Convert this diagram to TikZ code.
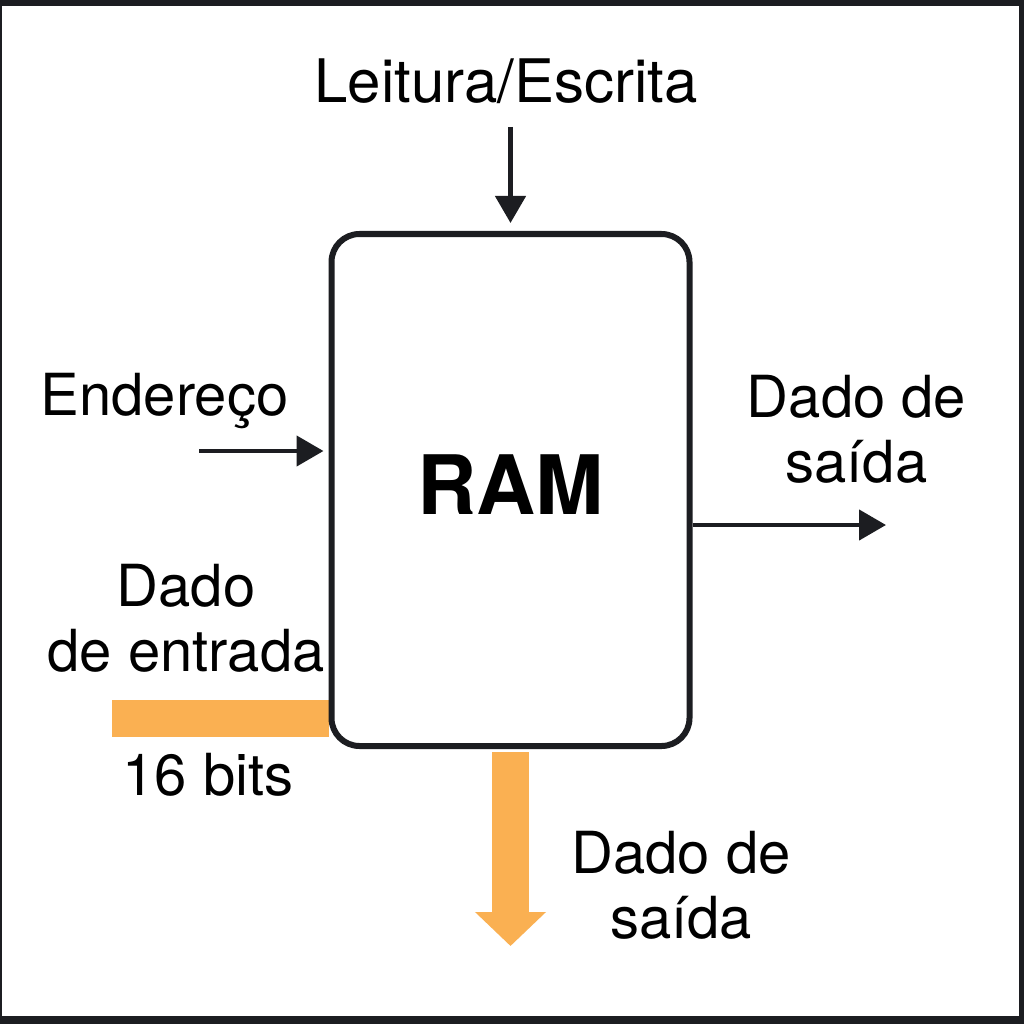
\documentclass[tikz,border=0pt]{standalone}
\usepackage{fontspec}
\setmainfont{TeX Gyre Heros}
\usetikzlibrary{arrows.meta,positioning,backgrounds}
\definecolor{ink}{RGB}{28,29,33}
\definecolor{busorange}{RGB}{250,176,82}
\tikzset{
  lbl/.style={inner sep=0pt,align=center,anchor=base,text=black,font=\fontsize{58pt}{65pt}\selectfont},
  sig/.style={draw=ink,line width=4.5pt,-{Triangle[width=30pt,length=27pt]}},
  bus/.style={draw=busorange,line width=37pt},
}
\begin{document}
\begin{tikzpicture}[x=1pt,y=-1pt,>=Stealth]
\useasboundingbox (0,0) rectangle (1024,1024);
\begin{pgfonlayer}{background}
\fill[ink] (0,0) rectangle (1024,1024);
\fill[white] (1.5,6) rectangle (1019,1016);
\end{pgfonlayer}
% memory block
\node[draw=ink,line width=6pt,fill=white,rounded corners=28pt,minimum width=358pt,minimum height=512pt,inner sep=0pt,text depth=10pt,font=\fontsize{82pt}{90pt}\selectfont\bfseries] (ram) at (510.5,490) {RAM};
% free ends
\coordinate (rwin) at (510.5,127);
\coordinate (addrin) at (199,451);
\coordinate (doutend) at (886,525);
\coordinate (dinstart) at (112,718);
\coordinate (busend) at (510.5,946);
% labels (base = last line)
\node[lbl,font=\fontsize{60pt}{65pt}\selectfont] (rw) at (506,103) {Leitura/Escrita};
\node[lbl] (addr) at (164.5,415) {Endereço};
\node[lbl] (dout) at (856.5,482) {Dado de\\saída};
\node[lbl] (din) at (186,671) {Dado\\de entrada};
\node[lbl] (width) at (208,795) {16 bits};
\node[lbl] (dout2) at (681,938) {Dado de\\saída};
% signals
\draw[sig,shorten >=8pt] (rwin) -- (ram.north);
\draw[sig,shorten >=5pt] (addrin) -- (ram.west |- addrin);
\draw[sig] (ram.east |- doutend) -- (doutend);
% data buses
\begin{pgfonlayer}{background}
\draw[bus] (dinstart) -- (ram.west |- dinstart);
\end{pgfonlayer}
\draw[bus,-{Triangle[width=69pt,length=34pt]}] (ram.south) ++(0,3) -- (busend);
\end{tikzpicture}
\end{document}
